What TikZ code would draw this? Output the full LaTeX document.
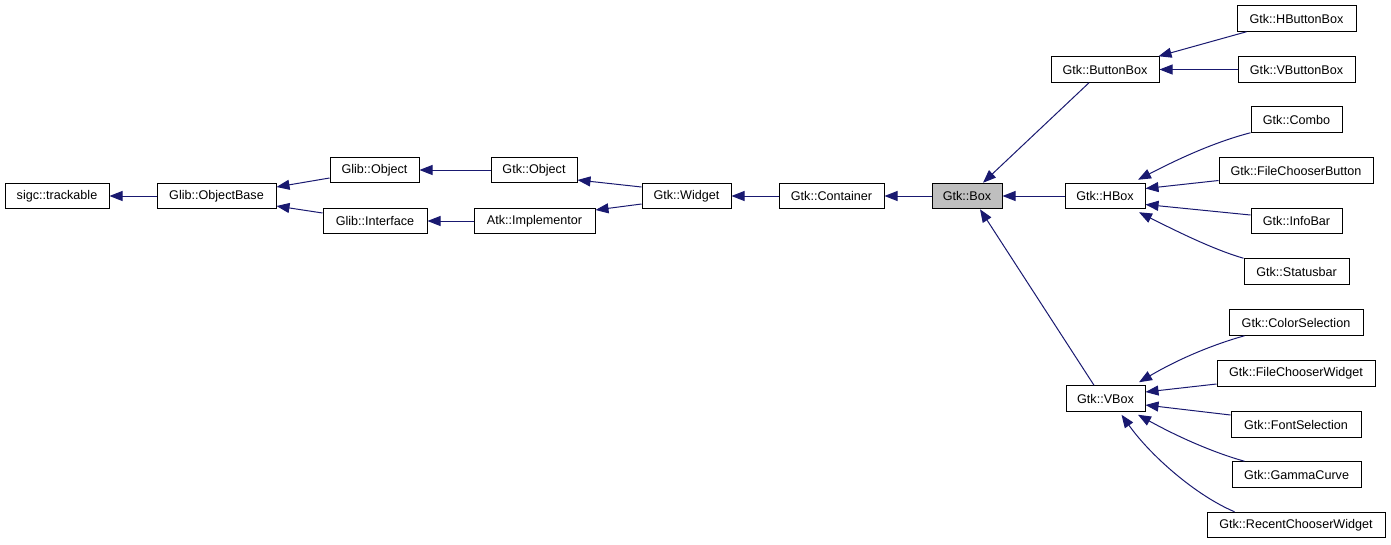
\documentclass[tikz,border=0pt]{standalone}
\usepackage{fontspec}
\setmainfont{Liberation Sans}
\usetikzlibrary{arrows.meta,calc}
\definecolor{edgeblue}{HTML}{191970}
\definecolor{boxgray}{HTML}{BFBFBF}
\tikzset{
  cls/.style={draw=black, fill=white, line width=1pt, inner sep=0pt, minimum height=25.5pt,
    font=\fontsize{12.6}{14}\selectfont, anchor=center},
  inh/.style={draw=edgeblue, line width=1pt, -{Triangle[length=13pt,width=10pt]}},
}
\begin{document}
\begin{tikzpicture}[x=1pt,y=-1pt]
\useasboundingbox (0,0) rectangle (1391,544);
% left chain
\node[cls, minimum width=104pt] (trk) at (57,196) {sigc::trackable};
\node[cls, minimum width=119pt] (gob) at (216.5,196) {Glib::ObjectBase};
\node[cls, minimum width=89pt] (glo) at (374.5,170) {Glib::Object};
\node[cls, minimum width=104pt] (gli) at (375,221) {Glib::Interface};
\node[cls, minimum width=86pt] (gto) at (534,170) {Gtk::Object};
\node[cls, minimum width=121pt] (atk) at (534.5,221) {Atk::Implementor};
\node[cls, minimum width=89pt] (wid) at (686.5,196) {Gtk::Widget};
\node[cls, minimum width=105pt] (con) at (831.5,196) {Gtk::Container};
\node[cls, minimum width=70pt, fill=boxgray] (box) at (967,196) {Gtk::Box};
% middle column
\node[cls, minimum width=108pt] (bbx) at (1105,69.5) {Gtk::ButtonBox};
\node[cls, minimum width=80pt] (hbx) at (1105,196) {Gtk::HBox};
\node[cls, minimum width=79pt] (vbx) at (1105.5,398.5) {Gtk::VBox};
% right column
\node[cls, minimum width=119pt] (hbb) at (1296.5,18.5) {Gtk::HButtonBox};
\node[cls, minimum width=117pt] (vbb) at (1296.5,69.5) {Gtk::VButtonBox};
\node[cls, minimum width=91pt] (cmb) at (1296.5,119.5) {Gtk::Combo};
\node[cls, minimum width=154pt] (fcb) at (1296,170.5) {Gtk::FileChooserButton};
\node[cls, minimum width=91pt] (inf) at (1296.5,221) {Gtk::InfoBar};
\node[cls, minimum width=105pt] (sta) at (1296.5,271.5) {Gtk::Statusbar};
\node[cls, minimum width=134pt] (col) at (1296,322.5) {Gtk::ColorSelection};
\node[cls, minimum width=158pt] (fcw) at (1296,373.5) {Gtk::FileChooserWidget};
\node[cls, minimum width=130pt] (fon) at (1296,424.5) {Gtk::FontSelection};
\node[cls, minimum width=129pt] (gam) at (1296.5,474.5) {Gtk::GammaCurve};
\node[cls, minimum width=178pt] (rec) at (1296,525) {Gtk::RecentChooserWidget};
% edges (child -> parent)
\draw[inh] (gob.west) -- (trk.east);
\draw[inh] ($(glo.west)+(0,8)$) -- ($(gob.east)+(0,-9)$);
\draw[inh] ($(gli.west)+(0,-8)$) -- ($(gob.east)+(0,10)$);
\draw[inh] (gto.west) -- (glo.east);
\draw[inh] (atk.west) -- (gli.east);
\draw[inh] ($(wid.west)+(0,-9)$) -- ($(gto.east)+(0,10)$);
\draw[inh] ($(wid.west)+(0,8)$) -- ($(atk.east)+(0,-11)$);
\draw[inh] (con.west) -- (wid.east);
\draw[inh] (box.west) -- (con.east);
\draw[inh] (hbx.west) -- (box.east);
\draw[inh] ($(bbx.south)+(-16,0)$) -- ($(box.north)+(16,0)$);
\draw[inh] ($(vbx.north)+(-11.5,0)$) -- ($(box.south)+(13,0)$);
\draw[inh] ($(hbb.south west)+(10,0)$) -- ($(bbx.north east)+(-1,0)$);
\draw[inh] (vbb.west) -- (bbx.east);
\draw[inh] (cmb.south west) .. controls (1215,142) and (1180,158) .. ($(hbx.north)+(33,-3)$);
\draw[inh] ($(fcb.west)+(0,10)$) -- ($(hbx.east)+(0,-7.5)$);
\draw[inh] ($(inf.west)+(0,-6)$) -- ($(hbx.east)+(0,8.5)$);
\draw[inh] (sta.north west) .. controls (1215,250) and (1180,233) .. ($(hbx.south)+(34,3)$);
\draw[inh] ($(col.south west)+(16,0)$) .. controls (1215,344) and (1180,358) .. ($(vbx.north)+(33.5,-3)$);
\draw[inh] ($(fcw.west)+(0,10.5)$) -- ($(vbx.east)+(0,-6.5)$);
\draw[inh] ($(fon.west)+(0,-9.5)$) -- ($(vbx.east)+(0,6.5)$);
\draw[inh] ($(gam.north west)+(13,0)$) .. controls (1215,453) and (1180,438) .. ($(vbx.south)+(32.5,3)$);
\draw[inh] ($(rec.north west)+(28,0)$) .. controls (1195,495) and (1150,455) .. ($(vbx.south)+(16,3)$);
\end{tikzpicture}
\end{document}
